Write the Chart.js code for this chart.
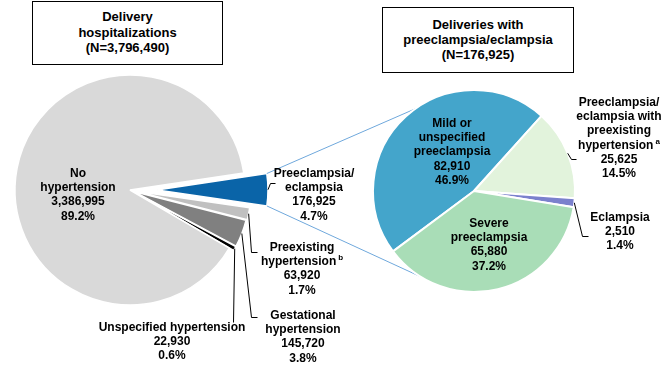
<!DOCTYPE html>
<html>
<head>
<meta charset="utf-8">
<script src="https://cdn.jsdelivr.net/npm/chart.js@4/dist/chart.umd.min.js"></script>
<style>
  html, body { margin: 0; padding: 0; background: #fff; }
  #wrap { position: relative; width: 670px; height: 368px; overflow: hidden;
          font-family: "Liberation Sans", Arial, sans-serif; font-weight: bold; color: #000; }
  #wrap canvas { position: absolute; left: 0; top: 0; }
  .box { position: absolute; border: 1px solid #000; box-sizing: border-box; background: #fff;
         text-align: center; font-size: 13px; line-height: 15.5px; }
  .lbl { position: absolute; text-align: center; font-size: 12px; line-height: 14.3px;
         white-space: nowrap; transform: translateX(-50%); }
  .lbl sup { font-size: 8px; line-height: 0; position: relative; top: 0; margin-left: 2px; }
</style>
</head>
<body>
<div id="wrap">
  <canvas id="leftPie" width="670" height="368"></canvas>
  <canvas id="rightPie" width="670" height="368"></canvas>
  <div class="box" style="left:32px;top:1px;width:191px;height:64px;padding-top:7px;">Delivery<br>hospitalizations<br>(N=3,796,490)</div>
  <div class="box" style="left:382px;top:7px;width:192px;height:66px;padding-top:9px;line-height:15px;">Deliveries with<br>preeclampsia/eclampsia<br>(N=176,925)</div>
</div>
<script>
// left pie: all delivery hospitalizations
const leftCategories = ["Preeclampsia/\neclampsia", "Preexisting\nhypertension", "Gestational\nhypertension", "Unspecified hypertension", "No\nhypertension"];
const leftValues = [176925, 63920, 145720, 22930, 3386995];
const leftNotes = ["", "b", "", "", ""];
const leftColors = ["#0A64A8", "#C0C0C0", "#808080", "#000000", "#D9D9D9"];

// right pie: deliveries with preeclampsia/eclampsia
const rightCategories = ["Mild or\nunspecified\npreeclampsia", "Preeclampsia/\neclampsia with\npreexisting\nhypertension", "Eclampsia", "Severe\npreeclampsia"];
const rightValues = [82910, 25625, 2510, 65880];
const rightNotes = ["", "a", "", ""];
const rightColors = ["#44A5CB", "#E2F3DC", "#7B81CD", "#A9DDB7"];

// layout: label anchors (center x, first line y) and leader elbows
const leftLabelPos = [[314, 173], [302, 247], [303, 315], [172, 327], [78, 173]];
const rightLabelPos = [[452, 123], [619, 102], [620, 217], [489, 223]];
const leftLeaders = [[[270, 183], [275, 183]], [[251, 252], [257, 252]], [[251, 317], [257, 317]], [[233, 322]], null];
const rightLeaders = [null, [[571, 159], [576, 159]], [[582, 236], [588, 236]], null];
const leftExplode = [27, 6, 5, 5, 0];
const leftShrink = [4, 0, 0, 0, 0];

const fmt = v => v.toLocaleString("en-US");
const pct = (v, arr) => (v / arr.reduce((a, b) => a + b, 0) * 100).toFixed(1) + "%";

function addLabels(cats, vals, notes, pos) {
  const wrap = document.getElementById("wrap");
  cats.forEach((c, i) => {
    const div = document.createElement("div");
    div.className = "lbl";
    div.style.left = pos[i][0] + "px";
    div.style.top = (pos[i][1] - 7.15) + "px";
    let html = c.split("\n").join("<br>");
    if (notes[i]) html += "<sup>" + notes[i] + "</sup>";
    html += "<br>" + fmt(vals[i]) + "<br>" + pct(vals[i], vals);
    div.innerHTML = html;
    wrap.appendChild(div);
  });
}

function makeExplode(dist, shrink) {
  return {
    id: "explode",
    afterDatasetUpdate(chart, args) {
      args.meta.data.forEach((arc, i) => {
        const mid = (arc.startAngle + arc.endAngle) / 2;
        arc.x += Math.cos(mid) * (dist[i] || 0);
        arc.y += Math.sin(mid) * (dist[i] || 0);
        arc.outerRadius -= (shrink[i] || 0);
      });
    }
  };
}

function makeLeaders(leaders) {
  return {
    id: "leaders",
    afterDatasetsDraw(chart) {
      const c = chart.ctx;
      const arcs = chart.getDatasetMeta(0).data;
      c.save();
      c.strokeStyle = "#000";
      c.lineWidth = 1;
      leaders.forEach((pts, i) => {
        if (!pts) return;
        const a = arcs[i];
        const mid = (a.startAngle + a.endAngle) / 2;
        c.beginPath();
        c.moveTo(a.x + Math.cos(mid) * a.outerRadius, a.y + Math.sin(mid) * a.outerRadius);
        pts.forEach(p => c.lineTo(p[0] + 0.5, p[1] + 0.5));
        c.stroke();
      });
      c.restore();
    }
  };
}

const leftChart = new Chart(document.getElementById("leftPie"), {
  type: "pie",
  data: {
    labels: leftCategories,
    datasets: [{
      data: leftValues,
      backgroundColor: leftColors,
      borderColor: "#fff",
      borderWidth: 1.5
    }]
  },
  options: {
    responsive: false,
    animation: false,
    events: [],
    rotation: 81.5,
    radius: 115,
    layout: { padding: { left: 0, top: 60, right: 410, bottom: 48 } },
    plugins: { legend: { display: false }, tooltip: { enabled: false } }
  },
  plugins: [makeExplode(leftExplode, leftShrink), makeLeaders(leftLeaders)]
});

// connector lines from the exploded slice to the second pie
const connectAngles = [234.6, 122];
const connector = {
  id: "connector",
  beforeDatasetsDraw(chart) {
    const src = leftChart.getDatasetMeta(0).data[0];
    const dst = chart.getDatasetMeta(0).data[0];
    const c = chart.ctx;
    const ends = [src.startAngle, src.endAngle];
    c.save();
    c.strokeStyle = "#6FA8DC";
    c.lineWidth = 1;
    ends.forEach((ang, k) => {
      const t = connectAngles[k] * Math.PI / 180;
      c.beginPath();
      c.moveTo(src.x + Math.cos(ang) * src.outerRadius, src.y + Math.sin(ang) * src.outerRadius);
      c.lineTo(dst.x + Math.cos(t) * dst.outerRadius, dst.y + Math.sin(t) * dst.outerRadius);
      c.stroke();
    });
    c.restore();
  }
};

new Chart(document.getElementById("rightPie"), {
  type: "pie",
  data: {
    labels: rightCategories,
    datasets: [{
      data: rightValues,
      backgroundColor: rightColors,
      borderColor: "#fff",
      borderWidth: 2
    }]
  },
  options: {
    responsive: false,
    animation: false,
    events: [],
    rotation: 233.3,
    radius: 101,
    layout: { padding: { left: 374, top: 91, right: 96, bottom: 77 } },
    plugins: { legend: { display: false }, tooltip: { enabled: false } }
  },
  plugins: [connector, makeLeaders(rightLeaders)]
});

addLabels(leftCategories, leftValues, leftNotes, leftLabelPos);
addLabels(rightCategories, rightValues, rightNotes, rightLabelPos);
</script>
</body>
</html>
